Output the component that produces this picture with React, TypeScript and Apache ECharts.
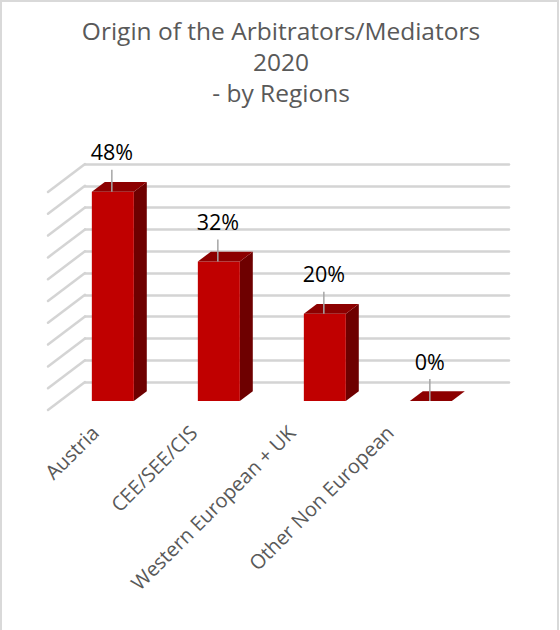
import React, { useEffect, useRef } from "react";
import * as echarts from "echarts";

const categories = ["Austria", "CEE/SEE/CIS", "Western European + UK", "Other Non European"];
const shares = [0.48, 0.32, 0.2, 0.0];
const shareLabels = ["48%", "32%", "20%", "0%"];
const gridTicks = [0, 0.05, 0.1, 0.15, 0.2, 0.25, 0.3, 0.35, 0.4, 0.45, 0.5];

const FONT = "Open Sans";
const DEPTH_X = 37;
const DEPTH_Y = -28;
const F_FRONT = 0.32;
const F_BACK = 0.67;
const HALF_W = 21;

export default function App() {
  const ref = useRef<HTMLDivElement>(null);
  useEffect(() => {
    if (!ref.current) return;
    const chart = echarts.init(ref.current, null, { renderer: "svg" });
    const fx = -DEPTH_X * (1 - F_FRONT);
    const fy = -DEPTH_Y * (1 - F_FRONT);
    const bx = -DEPTH_X * (1 - F_BACK);
    const by = -DEPTH_Y * (1 - F_BACK);

    const option: any = {
      animation: false,
      backgroundColor: "#ffffff",
      title: {
        text: "Origin of the Arbitrators/Mediators\n2020\n- by Regions",
        left: 276,
        textAlign: "center",
        top: 10,
        textStyle: {
          fontFamily: FONT,
          fontSize: 24.5,
          fontWeight: "normal",
          color: "#595959",
          lineHeight: 31,
        },
      },
      graphic: [
        {
          type: "rect",
          shape: { x: 1, y: 1, width: 557, height: 640 },
          style: { fill: "none", stroke: "#d9d9d9", lineWidth: 2 },
          silent: true,
        },
      ],
      grid: [
        { left: 85, right: 51, top: 164, bottom: 248 },
        { left: 46, right: 121, top: 190, bottom: 220 },
      ],
      xAxis: [
        {
          type: "category",
          gridIndex: 0,
          data: categories,
          axisLine: { show: false },
          axisTick: { show: false },
          axisLabel: { show: false },
        },
        {
          type: "category",
          gridIndex: 1,
          data: categories,
          axisLine: { show: false },
          axisTick: { show: false },
          axisLabel: {
            rotate: 45,
            margin: 19,
            interval: 0,
            fontFamily: FONT,
            fontSize: 20,
            color: "#595959",
          },
        },
      ],
      yAxis: [
        {
          type: "value",
          gridIndex: 0,
          min: 0,
          max: 0.5,
          interval: 0.05,
          axisLine: { show: false },
          axisTick: { show: false },
          axisLabel: { show: false },
          splitLine: { lineStyle: { color: "#d4d4d4", width: 2.5, cap: "round" } },
        },
        {
          type: "value",
          gridIndex: 1,
          show: false,
          splitLine: { show: false },
        },
      ],
      series: [
        {
          type: "custom",
          xAxisIndex: 0,
          yAxisIndex: 0,
          silent: true,
          data: gridTicks.map((t) => [0, t]),
          renderItem: (params: any, api: any) => {
            const y = api.coord([0, api.value(1)])[1];
            const x = params.coordSys.x;
            return {
              type: "line",
              shape: { x1: x, y1: y, x2: x - DEPTH_X, y2: y - DEPTH_Y },
              style: { stroke: "#d4d4d4", lineWidth: 2.5, lineCap: "round" },
            };
          },
        },
        {
          type: "custom",
          xAxisIndex: 0,
          yAxisIndex: 0,
          silent: true,
          data: shares.map((v, i) => [i, v]),
          renderItem: (params: any, api: any) => {
            const i = api.value(0);
            const v = api.value(1);
            const [cx, yTop] = api.coord([i, v]);
            const y0 = api.coord([i, 0])[1];
            const fl = cx + fx - HALF_W;
            const fr = cx + fx + HALF_W;
            const bl = cx + bx - HALF_W;
            const br = cx + bx + HALF_W;
            const fTop = yTop + fy;
            const fBot = y0 + fy;
            const bTop = yTop + by;
            const bBot = y0 + by;
            const children: any[] = [];
            if (fBot - fTop > 0.5) {
              children.push({
                type: "polygon",
                shape: { points: [[fr, fTop], [br, bTop], [br, bBot], [fr, fBot]] },
                style: { fill: "#6e0000" },
              });
              children.push({
                type: "rect",
                shape: { x: fl, y: fTop, width: fr - fl, height: fBot - fTop },
                style: { fill: "#c00000" },
              });
            }
            children.push({
              type: "polygon",
              shape: { points: [[fl, fTop], [fr, fTop], [br, bTop], [bl, bTop]] },
              style: { fill: "#8c0000" },
            });
            const lx = cx + fx - 1;
            children.push({
              type: "line",
              shape: { x1: lx, y1: fTop, x2: lx, y2: fTop - 22 },
              style: { stroke: "#a6a6a6", lineWidth: 1.5 },
            });
            children.push({
              type: "text",
              style: {
                text: shareLabels[i],
                x: lx,
                y: fTop - 40,
                align: "center",
                verticalAlign: "middle",
                fontFamily: FONT,
                fontSize: 21.5,
                fill: "#000000",
              },
            });
            return { type: "group", children };
          },
        },
        {
          type: "custom",
          xAxisIndex: 1,
          yAxisIndex: 1,
          data: [],
          renderItem: () => null,
        },
      ],
    };
    chart.setOption(option);
    return () => chart.dispose();
  }, []);
  return (
    <div
      ref={ref}
      style={{ position: "fixed", left: 0, top: 0, width: 560, height: 630 }}
    />
  );
}
